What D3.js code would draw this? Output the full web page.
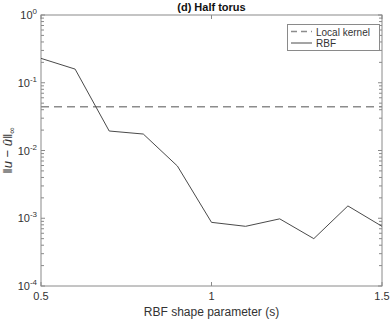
<!DOCTYPE html>
<html><head><meta charset="utf-8">
<script src="https://cdn.jsdelivr.net/npm/d3@7"></script>
<style>body{margin:0;background:#fff}svg{display:block}text{font-family:"Liberation Sans",Arial,sans-serif}</style>
</head><body><div id="c"></div>
<script>
const shapeParams = [0.5,0.6,0.7,0.8,0.9,1.0,1.1,1.2,1.3,1.4,1.5];
const rbfErrors = [0.229,0.159,0.0194,0.0175,0.0059,0.00087,0.00076,0.00098,0.00050,0.00152,0.00076];
const localKernelError = 0.0442;
const xTicks = [0.5,1,1.5];
const xTickLabels = ["0.5","1","1.5"];
const yTicks = [1e-4,1e-3,1e-2,1e-1,1];
const yTickExps = ["-4","-3","-2","-1","0"];
const seriesNames = ["Local kernel","RBF"];

const W=390,H=319, m={l:41,r:8,t:15,b:33};
const svg=d3.select("#c").append("svg").attr("width",W).attr("height",H);
const x=d3.scaleLinear().domain([0.5,1.5]).range([m.l,W-m.r]);
const y=d3.scaleLog().domain([1e-4,1]).range([H-m.b,m.t]);
const axisCol="#8a8a8a", txtCol="#333";

// minor ticks
const minor=[];
for(let e=-4;e<0;e++) for(let k=2;k<=9;k++) minor.push(k*Math.pow(10,e));
const g=svg.append("g");
minor.forEach(v=>{
  g.append("line").attr("x1",x(0.5)).attr("x2",x(0.5)+3).attr("y1",y(v)).attr("y2",y(v)).attr("stroke",axisCol);
  g.append("line").attr("x1",x(1.5)).attr("x2",x(1.5)-3).attr("y1",y(v)).attr("y2",y(v)).attr("stroke",axisCol);
});
yTicks.forEach(v=>{
  g.append("line").attr("x1",x(0.5)).attr("x2",x(0.5)+4).attr("y1",y(v)).attr("y2",y(v)).attr("stroke",axisCol);
  g.append("line").attr("x1",x(1.5)).attr("x2",x(1.5)-4).attr("y1",y(v)).attr("y2",y(v)).attr("stroke",axisCol);
});
xTicks.forEach(v=>{
  g.append("line").attr("x1",x(v)).attr("x2",x(v)).attr("y1",y(1e-4)).attr("y2",y(1e-4)-4).attr("stroke",axisCol);
  g.append("line").attr("x1",x(v)).attr("x2",x(v)).attr("y1",y(1)).attr("y2",y(1)+4).attr("stroke",axisCol);
});
// box
svg.append("rect").attr("x",x(0.5)).attr("y",y(1)).attr("width",x(1.5)-x(0.5)).attr("height",y(1e-4)-y(1))
  .attr("fill","none").attr("stroke",axisCol).attr("stroke-width",1);

// tick labels
xTicks.forEach((v,i)=>{
  svg.append("text").attr("x",x(v)).attr("y",y(1e-4)+14).attr("text-anchor","middle")
   .attr("font-size",11).attr("fill",txtCol).text(xTickLabels[i]);
});
yTicks.forEach((v,i)=>{
  const t=svg.append("text").attr("x",x(0.5)-4).attr("y",y(v)+4).attr("text-anchor","end").attr("font-size",11).attr("fill",txtCol);
  t.append("tspan").text("10");
  t.append("tspan").attr("dy",-5).attr("font-size",8).text(yTickExps[i]);
});

// lines
svg.append("line").attr("x1",x(0.5)).attr("x2",x(1.5)).attr("y1",y(localKernelError)).attr("y2",y(localKernelError))
  .attr("stroke","#8c8c8c").attr("stroke-width",1.3).attr("stroke-dasharray","8,5");
const line=d3.line().x((d,i)=>x(shapeParams[i])).y(d=>y(d));
svg.append("path").datum(rbfErrors).attr("d",line).attr("fill","none").attr("stroke","#4a4a4a").attr("stroke-width",1);

// title
svg.append("text").attr("x",(x(0.5)+x(1.5))/2).attr("y",11).attr("text-anchor","middle")
  .attr("font-size",11).attr("font-weight","bold").attr("fill","#111").text("(d) Half torus");
// x label
svg.append("text").attr("x",(x(0.5)+x(1.5))/2).attr("y",316).attr("text-anchor","middle")
  .attr("font-size",12).attr("fill",txtCol).text("RBF shape parameter (s)");
// y label
const yl=svg.append("text").attr("transform",`translate(12,${(y(1)+y(1e-4))/2}) rotate(-90)`).attr("text-anchor","middle")
  .attr("font-size",13).attr("fill",txtCol).attr("font-family","'DejaVu Serif',serif");
yl.append("tspan").text("‖");
yl.append("tspan").attr("font-style","italic").text("u");
yl.append("tspan").text(" − ");
yl.append("tspan").attr("font-style","italic").text("û");
yl.append("tspan").text("‖");
yl.append("tspan").attr("dy",3).attr("font-size",9).text("∞");

// legend
const lg=svg.append("g");
lg.append("rect").attr("x",287.5).attr("y",24.5).attr("width",92).attr("height",26).attr("fill","#fff").attr("stroke",axisCol);
lg.append("line").attr("x1",291).attr("x2",312).attr("y1",31.5).attr("y2",31.5).attr("stroke","#8c8c8c").attr("stroke-width",1.3).attr("stroke-dasharray","6,4");
lg.append("line").attr("x1",291).attr("x2",312).attr("y1",43).attr("y2",43).attr("stroke","#4a4a4a");
lg.append("text").attr("x",316).attr("y",35.5).attr("font-size",10).attr("fill",txtCol).text(seriesNames[0]);
lg.append("text").attr("x",316).attr("y",47).attr("font-size",10).attr("fill",txtCol).text(seriesNames[1]);
</script></body></html>
